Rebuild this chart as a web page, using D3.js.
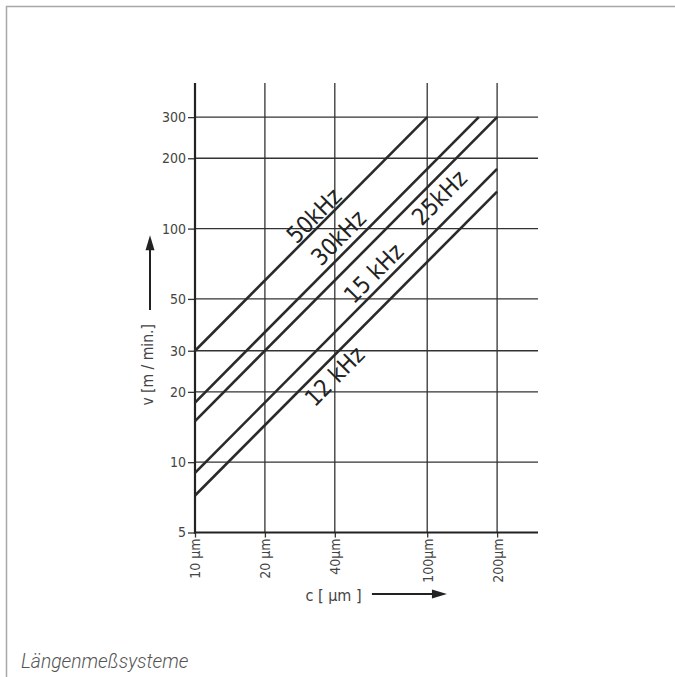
<!DOCTYPE html>
<html>
<head>
<meta charset="utf-8">
<script src="https://cdn.jsdelivr.net/npm/d3@7"></script>
<style>
  html, body { margin: 0; padding: 0; background: #fff; }
  svg { display: block; }
  .cond { font-family: "DejaVu Sans Condensed", "DejaVu Sans", sans-serif; font-stretch: condensed; }
</style>
</head>
<body>
<svg id="chart" width="675" height="677"></svg>
<script>
// ---- data ----
const xTicks = [10, 20, 40, 100, 200];
const xTickLabels = ["10 µm", "20 µm", "40µm", "100µm", "200µm"];
const yTicks = [5, 10, 20, 30, 50, 100, 200, 300];
const yTickLabels = ["5", "10", "20", "30", "50", "100", "200", "300"];
const seriesNames = ["50kHz", "30kHz", "25kHz", "15 kHz", "12 kHz"];
const cStart = [10, 10, 10, 10, 10];
const vStart = [30, 18, 15, 9, 7.2];
const cEnd = [100, 166.7, 200, 200, 200];
const vEnd = [300, 300, 300, 180, 144];
const labelC = [32.5, 41.4, 112.6, 58.6, 39.8];
const labelV = [114, 91.6, 136, 64.5, 23.4];
const xDomain = [10, 300];
const yDomain = [5, 420];
const xTitle = "c [ µm ]";
const yTitle = "v  [m / min.]";
const caption = "Längenmeßsysteme";

(function () {
// ---- layout ----
const svg = d3.select("#chart");
const pL = 195, pR = 538, pT = 83, pB = 532.5;
const x = d3.scaleLog().domain(xDomain).range([pL, pR]);
const y = d3.scaleLog().domain(yDomain).range([pB, pT]);

// frame border (top and left)
svg.append("path")
  .attr("d", `M6.5,677 L6.5,6.5 L675,6.5`)
  .attr("fill", "none").attr("stroke", "#a8a8a8").attr("stroke-width", 1.5);

const g = svg.append("g");

// horizontal grid lines
g.selectAll("line.hgrid").data(yTicks.slice(1)).join("line")
  .attr("class", "hgrid")
  .attr("x1", pL).attr("x2", pR)
  .attr("y1", d => y(d)).attr("y2", d => y(d))
  .attr("stroke", "#333").attr("stroke-width", 1.3);

// vertical grid lines
g.selectAll("line.vgrid").data(xTicks.slice(1)).join("line")
  .attr("class", "vgrid")
  .attr("x1", d => x(d)).attr("x2", d => x(d))
  .attr("y1", pT).attr("y2", pB)
  .attr("stroke", "#333").attr("stroke-width", 1.3);

// Y axis
const yAxis = d3.axisLeft(y).tickValues(yTicks)
  .tickFormat((d, i) => yTickLabels[i]).tickSize(7).tickPadding(2);
const ya = g.append("g").attr("transform", `translate(${pL},0)`).call(yAxis);
ya.select(".domain").remove();
ya.selectAll(".tick line").attr("stroke", "#333").attr("stroke-width", 1.3);
ya.selectAll(".tick text").attr("class", "cond").attr("font-size", 14).attr("fill", "#444");
g.append("line").attr("x1", pL).attr("x2", pL).attr("y1", pT).attr("y2", pB + 1)
  .attr("stroke", "#222").attr("stroke-width", 2.2);

// X axis
const xAxis = d3.axisBottom(x).tickValues(xTicks)
  .tickFormat((d, i) => xTickLabels[i]).tickSize(5).tickPadding(2);
const xa = g.append("g").attr("transform", `translate(0,${pB})`).call(xAxis);
xa.select(".domain").remove();
xa.selectAll(".tick line").attr("stroke", "#333").attr("stroke-width", 1.3);
xa.selectAll(".tick text")
  .attr("class", "cond").attr("font-size", 14).attr("fill", "#444")
  .attr("transform", "rotate(-90)")
  .attr("text-anchor", "end").attr("dy", "0.35em").attr("y", 0).attr("x", -6);
g.append("line").attr("x1", pL - 1).attr("x2", pR).attr("y1", pB).attr("y2", pB)
  .attr("stroke", "#222").attr("stroke-width", 2.2);

// series lines
const idx = d3.range(seriesNames.length);
g.selectAll("line.series").data(idx).join("line")
  .attr("class", "series")
  .attr("x1", i => x(cStart[i])).attr("y1", i => y(vStart[i]))
  .attr("x2", i => x(cEnd[i])).attr("y2", i => y(vEnd[i]))
  .attr("stroke", "#2a2a2a").attr("stroke-width", 2.6).attr("stroke-linecap", "butt");

// series labels
g.selectAll("text.slabel").data(idx).join("text")
  .attr("class", "slabel cond")
  .attr("font-size", 23.5).attr("fill", "#222")
  .attr("text-anchor", "middle").attr("dy", "0.36em")
  .attr("transform", i => {
    const ang = Math.atan2(y(vEnd[i]) - y(vStart[i]), x(cEnd[i]) - x(cStart[i])) * 180 / Math.PI;
    return `translate(${x(labelC[i])},${y(labelV[i])}) rotate(${ang})`;
  })
  .text(i => seriesNames[i]);

// Y title + arrow
g.append("text").attr("class", "cond")
  .attr("font-size", 15.5).attr("fill", "#444")
  .attr("text-anchor", "middle").attr("dy", "0.35em")
  .attr("transform", `translate(148,${y(26.1)}) rotate(-90)`)
  .text(yTitle);
g.append("line").attr("x1", 150).attr("x2", 150).attr("y1", y(44.8)).attr("y2", y(85))
  .attr("stroke", "#222").attr("stroke-width", 2);
g.append("path")
  .attr("d", `M150,${y(93.6)} L145.5,${y(93.6) + 15} L154.5,${y(93.6) + 15} Z`)
  .attr("fill", "#222");

// X title + arrow
g.append("text").attr("class", "cond")
  .attr("font-size", 16).attr("fill", "#444")
  .attr("text-anchor", "middle").attr("dy", "0.35em")
  .attr("x", x(39.5)).attr("y", 595)
  .text(xTitle);
g.append("line").attr("x1", x(57.8)).attr("x2", x(112)).attr("y1", 594).attr("y2", 594)
  .attr("stroke", "#222").attr("stroke-width", 2);
g.append("path")
  .attr("d", `M${x(121.6)},594 L${x(121.6) - 15},589.5 L${x(121.6) - 15},598.5 Z`)
  .attr("fill", "#222");

// caption
svg.append("text")
  .attr("x", 21).attr("y", 668)
  .attr("font-family", "Roboto, 'Liberation Sans', sans-serif")
  .attr("font-style", "italic").attr("font-weight", 300)
  .attr("font-size", 19.3).attr("fill", "#555")
  .text(caption);
})();
</script>
</body>
</html>
